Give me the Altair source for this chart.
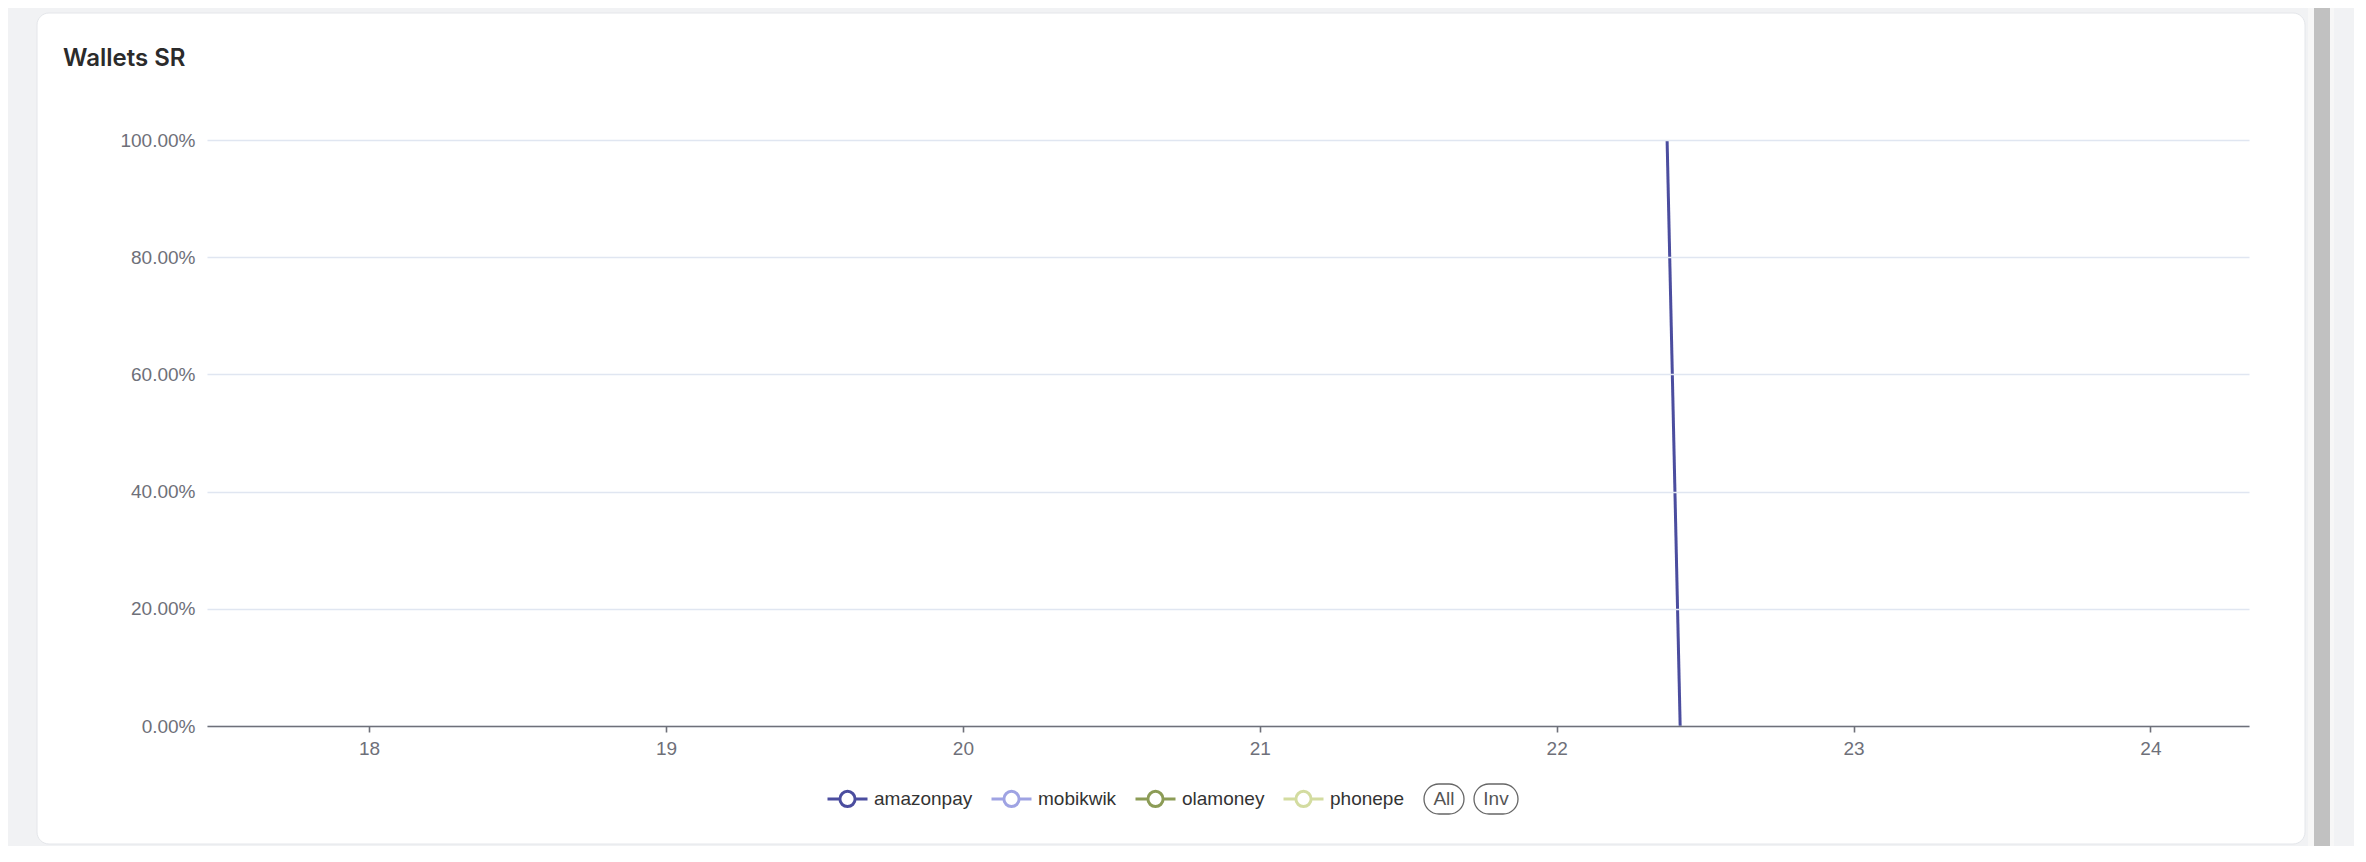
import altair as alt
import pandas as pd

# ---- data ----
series_names = ["amazonpay", "mobikwik", "olamoney", "phonepe"]
series_colors = ["#4b4d9f", "#9fa3e3", "#8c9c56", "#d3dca0"]
amazon_day = [22.372, 22.416]
amazon_sr = [1.0, 0.0]
x_ticks = [18, 19, 20, 21, 22, 23, 24]
y_ticks = [0.0, 0.2, 0.4, 0.6, 0.8, 1.0]
x_domain = [17.454, 24.332]
title_text = "Wallets SR"
selector_labels = ["All", "Inv"]

line_df = pd.DataFrame({
    "series": ["amazonpay"] * len(amazon_day),
    "day": amazon_day,
    "sr": amazon_sr,
})

W, H = 2042, 586
PAD = {"left": 199, "top": 132, "right": 105, "bottom": 120}

one = pd.DataFrame({"k": [0]})

# card background
card = alt.Chart(one).mark_rect(
    fill="white", stroke="#e4e6ea", strokeWidth=1, cornerRadius=12
).encode(
    x=alt.value(-170), x2=alt.value(2098), y=alt.value(-127), y2=alt.value(704)
)

# fake scroll track + thumb
track = alt.Chart(one).mark_rect(fill="#f7f7f7").encode(
    x=alt.value(2101), x2=alt.value(2127), y=alt.value(-140), y2=alt.value(730)
)
thumb = alt.Chart(one).mark_rect(fill="#c1c1c1").encode(
    x=alt.value(2107), x2=alt.value(2123), y=alt.value(-140), y2=alt.value(730)
)

title = alt.Chart(pd.DataFrame({"t": [title_text]})).mark_text(
    font="Inter", fontSize=24, fontWeight=600, color="#2b2b2b",
    align="left", baseline="middle"
).encode(x=alt.value(-144), y=alt.value(-81), text="t:N")

sym_path = ("M-1,0L-0.38,0M0.38,0L1,0"
            "M-0.38,0A0.38,0.38 0 1,0 0.38,0A0.38,0.38 0 1,0 -0.38,0Z")

line = alt.Chart(line_df).mark_line(strokeWidth=3).encode(
    x=alt.X("day:Q",
            scale=alt.Scale(domain=x_domain, nice=False, zero=False),
            axis=alt.Axis(values=x_ticks, format="d", title=None, grid=False,
                          domainColor="#6e7079", domainWidth=1.6,
                          tickColor="#6e7079", tickWidth=1.6, tickSize=6,
                          labelFont="Liberation Sans", labelFontSize=19,
                          labelColor="#6e7079", labelPadding=7, zindex=1)),
    y=alt.Y("sr:Q",
            scale=alt.Scale(domain=[0, 1], nice=False),
            axis=alt.Axis(values=y_ticks, format=".2%", title=None,
                          domain=False, ticks=False, grid=True,
                          gridColor="#e0e6f1", gridWidth=1.3,
                          labelFont="Liberation Sans", labelFontSize=19,
                          labelColor="#6e7079", labelPadding=12, zindex=1)),
    color=alt.Color("series:N",
                    scale=alt.Scale(domain=series_names, range=series_colors),
                    legend=alt.Legend(
                        orient="none", legendX=619, legendY=637,
                        direction="horizontal", title=None,
                        symbolType=sym_path, symbolSize=1600,
                        symbolStrokeWidth=3, symbolFillColor="white",
                        labelFont="Liberation Sans", labelFontSize=19,
                        labelColor="#333333", labelOffset=5,
                        columnPadding=12, padding=0, zindex=1)),
)

pill_all = alt.Chart(one).mark_rect(
    fill="white", stroke="#666666", strokeWidth=1.3, cornerRadius=15
).encode(x=alt.value(1217), x2=alt.value(1257), y=alt.value(644), y2=alt.value(674))
pill_inv = alt.Chart(one).mark_rect(
    fill="white", stroke="#666666", strokeWidth=1.3, cornerRadius=15
).encode(x=alt.value(1267), x2=alt.value(1311), y=alt.value(644), y2=alt.value(674))

sel_df = pd.DataFrame({"lab": selector_labels, "pos": [1237, 1289]})
sel_text = alt.Chart(sel_df).mark_text(
    font="Liberation Sans", fontSize=19, color="#555555",
    align="center", baseline="middle"
).encode(x=alt.X("pos:Q", scale=None), y=alt.value(659), text="lab:N")

chart = alt.layer(card, track, thumb, title, line, pill_all, pill_inv, sel_text).properties(
    width=W, height=H,
    padding=PAD,
    autosize=alt.AutoSizeParams(type="none"),
    background="#f1f2f4",
).configure_view(stroke=None)

chart.save("out.html", embed_options={"renderer": "svg", "actions": False})
